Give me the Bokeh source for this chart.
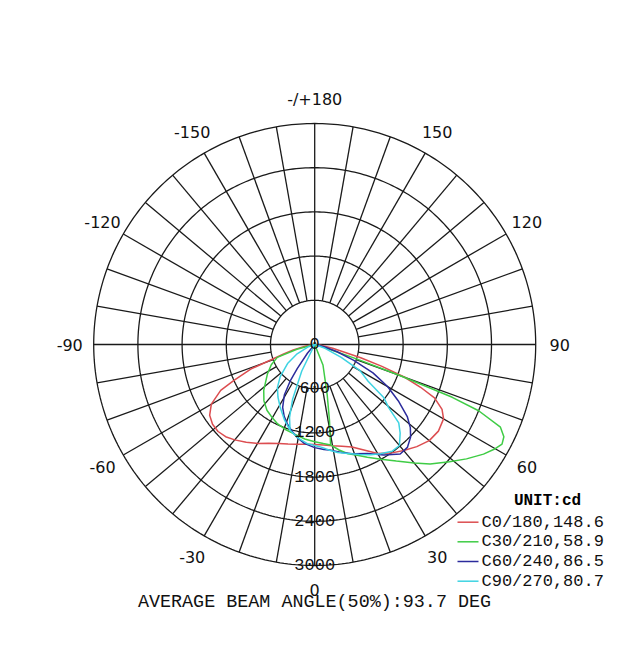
import numpy as np
from bokeh.plotting import figure
from bokeh.models import Range1d
from bokeh.embed import file_html
from bokeh.resources import INLINE
from bokeh.core.properties import value

# ---------------- data ----------------
ring_values = [600, 1200, 1800, 2400, 3000]
ring_labels = ["0", "600", "1200", "1800", "2400", "3000"]
angle_ticks = [0, 30, 60, 90, 120, 150, 180, -150, -120, -90, -60, -30]
angle_labels = ["0", "30", "60", "90", "120", "150", "-/+180", "-150", "-120", "-90", "-60", "-30"]

series_names = ["C0/180,148.6", "C30/210,58.9", "C60/240,86.5", "C90/270,80.7"]

red_gamma = [-90, -80, -76, -73, -69, -66, -64, -60, -56, -52, -48, -44, -40, -35, -30, -25, -20, -15, -10, -5,
             0, 5, 10, 15, 20, 25, 30, 35, 40, 45, 50, 55, 60, 63, 66, 68, 70, 72, 74, 78, 82, 90]
red_cd = [0, 120, 300, 440, 930, 1200, 1420, 1620, 1720, 1760, 1765, 1740, 1690, 1620, 1550, 1480, 1430, 1400, 1375, 1360,
          1357, 1370, 1395, 1430, 1480, 1580, 1710, 1800, 1880, 1960, 2030, 2050, 2020, 1940, 1780, 1550, 1300, 960, 650, 250, 80, 0]

green_gamma = [-90, -75, -71, -65, -58, -52, -48, -42, -36, -30, -25, -19, -13, -6, 0, 5, 9, 13, 17, 21,
               25, 30, 35, 40, 44, 49, 53, 57, 60, 62, 64, 66, 68, 69, 70, 71, 72, 75, 90, 22, 14, 11, 9]
green_cd = [0, 250, 537, 650, 757, 850, 931, 1030, 1103, 1150, 1190, 1220, 1245, 1290, 1320, 1350, 1380, 1470, 1550, 1610,
            1690, 1800, 1932, 2100, 2255, 2424, 2580, 2732, 2830, 2880, 2857, 2760, 2400, 2000, 1238, 600, 250, 80, 0, 300, 700, 1050, 1380]

blue_gamma = [-90, -40, -36, -34, -31, -27, -23, -19, -15, -11, -6, 0, 5, 9, 14, 20, 26, 32, 38, 42,
              46, 49, 52, 56, 60, 64, 68, 72, 76, 90]
blue_cd = [0, 150, 400, 590, 800, 958, 1060, 1140, 1210, 1280, 1350, 1400, 1430, 1455, 1510, 1580, 1646, 1770, 1886, 1880,
           1810, 1720, 1597, 1370, 1142, 880, 573, 320, 130, 0]

cyan_gamma = [-90, -70, -62, -55, -47, -41, -35, -29, -22, -16, -10, -4, 0, 4, 8, 12, 17, 22, 27, 31,
              36, 40, 44, 47, 49.5, 52.5, 55.5, 60, 64, 70, 90, -26, -22, -19, -16]
cyan_cd = [0, 100, 270, 450, 640, 771, 870, 969, 1100, 1212, 1290, 1352, 1370, 1400, 1450, 1500, 1547, 1610, 1680, 1730,
           1790, 1790, 1670, 1560, 1320, 1180, 880, 710, 400, 150, 0, 400, 800, 1050, 1212]

series_gamma = [red_gamma, green_gamma, blue_gamma, cyan_gamma]
series_cd = [red_cd, green_cd, blue_cd, cyan_cd]
series_colors = ["#dc4d50", "#3fcc45", "#2b2b9c", "#3ed3e2"]

unit_text = "UNIT:cd"
footer_text = "AVERAGE BEAM ANGLE(50%):93.7 DEG"

# ---------------- layout ----------------
W, H = 632, 640
CX, CY = 314.2, 344.0          # centre of the diagram (px)
PX = 221.0 / 3000.0            # px per cd

def sx(px):  # picture x -> data x
    return (px - CX) / PX

def sy(py):  # picture y -> data y
    return -(py - CY) / PX

p = figure(width=W, height=H, output_backend="svg", toolbar_location=None,
           x_range=Range1d(-CX / PX, (W - CX) / PX), y_range=Range1d(-(H - CY) / PX, CY / PX),
           x_axis_type=None, y_axis_type=None, min_border=0)
p.grid.visible = False
p.outline_line_color = None
p.background_fill_color = "white"
p.border_fill_color = "white"

grid_col = "#1a1a1a"

# rings
t = np.linspace(0, 2 * np.pi, 361)
p.multi_line(xs=[list(r * np.cos(t)) for r in ring_values],
             ys=[list(r * np.sin(t)) for r in ring_values],
             line_color=grid_col, line_width=1.3)

# radial lines every 10 degrees (from the first ring outward)
r_in, r_out = ring_values[0], ring_values[-1]
xs, ys = [], []
for a in range(0, 360, 10):
    if a % 90 == 0:
        continue
    ar = np.radians(a)
    xs.append([r_in * np.sin(ar), r_out * np.sin(ar)])
    ys.append([-r_in * np.cos(ar), -r_out * np.cos(ar)])
xs.append([-r_out, r_out]); ys.append([0, 0])
xs.append([0, 0]); ys.append([-r_out, r_out])
p.multi_line(xs=xs, ys=ys, line_color=grid_col, line_width=1.3)

# curves
for g, cd, col in zip(series_gamma, series_cd, series_colors):
    g = np.radians(np.array(g, dtype=float))
    cd = np.array(cd, dtype=float)
    p.line(cd * np.sin(g), -cd * np.cos(g), line_color=col, line_width=1.5)

# angle labels
R_lab = 245 / PX
ang = np.radians(np.array(angle_ticks, dtype=float))
p.text(x=list(R_lab * np.sin(ang)), y=list(-R_lab * np.cos(ang)), text=angle_labels,
       text_font=value("DejaVu Sans"), text_font_size=value("16px"), text_color="#111111",
       text_align="center", text_baseline="middle")

# ring labels along the downward axis
ring_pos = [0] + ring_values
p.text(x=[0] * len(ring_pos), y=[-v for v in ring_pos], text=ring_labels,
       text_font=value("Liberation Mono"), text_font_size=value("17px"), text_color="#111111",
       text_align="center", text_baseline="alphabetic", y_offset=-1)

# legend
p.text(x=[sx(547)], y=[sy(500)], text=[unit_text], text_font=value("Liberation Mono"),
       text_font_size=value("16px"), text_font_style="bold", text_color="#000000",
       text_align="center", text_baseline="middle")
leg_y = [521.7, 541.3, 561.0, 580.7]
for i, (name, col) in enumerate(zip(series_names, series_colors)):
    yy = sy(leg_y[i])
    p.segment(x0=[sx(457)], y0=[yy], x1=[sx(478)], y1=[yy], line_color=col, line_width=1.5)
    p.text(x=[sx(481)], y=[yy], text=[name], text_font=value("Liberation Mono"),
           text_font_size=value("17px"), text_color="#111111", text_align="left", text_baseline="middle")

# footer
p.text(x=[sx(314)], y=[sy(602)], text=[footer_text], text_font=value("Liberation Mono"),
       text_font_size=value("18.4px"), text_color="#111111", text_align="center", text_baseline="middle")

open("out.html", "w").write(file_html(p, INLINE))
